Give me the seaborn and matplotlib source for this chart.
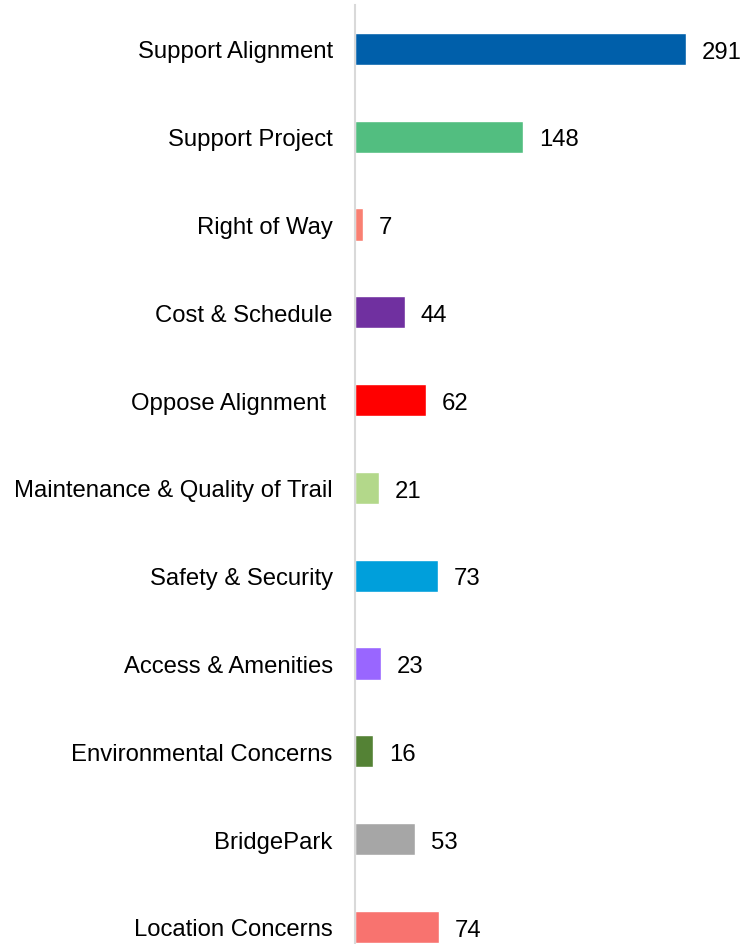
import matplotlib
matplotlib.use("Agg")
import matplotlib.pyplot as plt
import seaborn as sns
import pandas as pd

categories = ["Support Alignment", "Support Project", "Right of Way", "Cost & Schedule",
              "Oppose Alignment ", "Maintenance & Quality of Trail", "Safety & Security",
              "Access & Amenities", "Environmental Concerns", "BridgePark", "Location Concerns"]
values = [291, 148, 7, 44, 62, 21, 73, 23, 16, 53, 74]
colors = ["#005FAA", "#52BE80", "#F98072", "#7030A0", "#FF0000", "#B3D88A",
          "#009FDB", "#9966FF", "#548235", "#A6A6A6", "#F8736F"]

sns.set_style("white")
plt.rcParams['font.family'] = ['Liberation Sans', 'DejaVu Sans']

df = pd.DataFrame({"cat": categories, "val": values})

fig = plt.figure(figsize=(7.53, 9.45), dpi=100)
ax = fig.add_axes([355/753, 0, 1 - 355/753, 1 - 6/945])
sns.barplot(data=df, y="cat", x="val", hue="cat", palette=colors, order=categories,
            hue_order=categories, legend=False, width=0.365, saturation=1, ax=ax)

ax.set_xlim(0, 350)
ax.set_ylim(10.195, -0.5)
ax.set_xlabel("")
ax.set_ylabel("")
ax.set_xticks([])
for s in ["top", "right", "bottom"]:
    ax.spines[s].set_visible(False)
ax.spines["left"].set_color("#D9D9D9")
ax.spines["left"].set_linewidth(1.5)
ax.tick_params(axis="y", length=0, pad=16, labelsize=17.2, labelcolor="black")

for i, v in enumerate(values):
    ax.text(v + 14, i + 0.03, str(v), va="center", ha="left", fontsize=17.2, color="black")

fig.savefig("out.png", dpi=100)
